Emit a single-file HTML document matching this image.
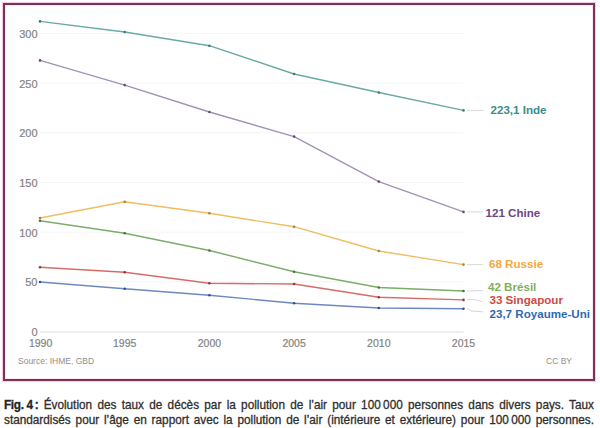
<!DOCTYPE html>
<html><head><meta charset="utf-8">
<style>
html,body{margin:0;padding:0;background:#fff;}
body{width:600px;height:428px;position:relative;overflow:hidden;font-family:"Liberation Sans",sans-serif;}
#frame{position:absolute;left:3px;top:3px;width:592px;height:378px;box-sizing:border-box;border:2px solid #7a3358;box-shadow:0 0 0 1px #f7cde6,inset 0 0 0 1px #fce6f4;}
svg{position:absolute;left:0;top:0;}
.cap{position:absolute;left:3.7px;top:398px;width:621px;transform:scaleX(0.95);transform-origin:0 0;font-size:12.4px;line-height:14.6px;color:#2e2e2e;text-align:justify;text-align-last:justify;-webkit-text-stroke:0.3px #2e2e2e;}
.cap b{color:#222;}
</style></head>
<body>
<div id="frame"></div>
<svg width="600" height="428" viewBox="0 0 600 428">
 <g stroke="#f6f6f6" stroke-width="1">
  <line x1="40" y1="33.5" x2="463.5" y2="33.5"/>
  <line x1="40" y1="83.2" x2="463.5" y2="83.2"/>
  <line x1="40" y1="132.8" x2="463.5" y2="132.8"/>
  <line x1="40" y1="182.5" x2="463.5" y2="182.5"/>
  <line x1="40" y1="232.2" x2="463.5" y2="232.2"/>
  <line x1="40" y1="281.8" x2="463.5" y2="281.8"/>
 </g>
 <line x1="40" y1="332" x2="463.5" y2="332" stroke="#e0e0e0" stroke-width="1.2"/>
 <g font-size="11" fill="#7f7f7f" stroke="#8a8a8a" stroke-width="0.2" text-anchor="end">
  <text x="37.5" y="37.8">300</text>
  <text x="37.5" y="87.5">250</text>
  <text x="37.5" y="137.1">200</text>
  <text x="37.5" y="186.8">150</text>
  <text x="37.5" y="236.5">100</text>
  <text x="37.5" y="286.1">50</text>
  <text x="37.5" y="335.8">0</text>
 </g>
 <g font-size="10.5" fill="#7f7f7f" stroke="#8a8a8a" stroke-width="0.2" text-anchor="middle">
  <text x="40.6" y="347">1990</text>
  <text x="124.7" y="347">1995</text>
  <text x="209.4" y="347">2000</text>
  <text x="294.1" y="347">2005</text>
  <text x="378.8" y="347">2010</text>
  <text x="463.5" y="347">2015</text>
 </g>
 <text x="18" y="364" font-size="8.5" fill="#8e8e8e">Source: IHME, GBD</text>
 <text x="572" y="363.5" font-size="8.5" fill="#8e8e8e" text-anchor="end">CC BY</text>

 <g stroke="#d8d8d8" stroke-width="1" fill="none">
  <line x1="467" y1="110.4" x2="483.5" y2="110.4"/>
  <line x1="467" y1="211.9" x2="483" y2="211.9"/>
  <line x1="467" y1="264.6" x2="483" y2="264.6"/>
  <path d="M467 291 L483 290.5"/>
  <path d="M467 299.7 L474 299.5 L483 301.8"/>
  <path d="M467 308.6 L472 311 L483 311.8"/>
 </g>

 <g fill="none" stroke-width="1.4" stroke-linejoin="round">
  <polyline stroke="#6aa9a6" points="40,21.4 124.7,32 209.4,45.7 294.1,74 378.8,92.5 463.5,110.4"/>
  <polyline stroke="#a292b6" points="40,60.4 124.7,85.1 209.4,112 294.1,136.6 378.8,181.6 463.5,211.9"/>
  <polyline stroke="#f0bd60" points="40,218 124.7,201.7 209.4,213.3 294.1,226.7 378.8,251 463.5,264.6"/>
  <polyline stroke="#7aad6a" points="40,220.7 124.7,233.3 209.4,250.5 294.1,271.7 378.8,287.5 463.5,291"/>
  <polyline stroke="#d66c6a" points="40,267.3 124.7,272.3 209.4,283.3 294.1,284 378.8,297.3 463.5,299.9"/>
  <polyline stroke="#6d89c2" points="40,282 124.7,288.7 209.4,295.2 294.1,303.3 378.8,308 463.5,308.7"/>
 </g>
 <g>
<circle cx="40" cy="21.4" r="1.3" fill="#3d7a78"/>
<circle cx="124.7" cy="32" r="1.3" fill="#3d7a78"/>
<circle cx="209.4" cy="45.7" r="1.3" fill="#3d7a78"/>
<circle cx="294.1" cy="74" r="1.3" fill="#3d7a78"/>
<circle cx="378.8" cy="92.5" r="1.3" fill="#3d7a78"/>
<circle cx="463.5" cy="110.4" r="1.3" fill="#3d7a78"/>
<circle cx="40" cy="60.4" r="1.3" fill="#6a4a78"/>
<circle cx="124.7" cy="85.1" r="1.3" fill="#6a4a78"/>
<circle cx="209.4" cy="112" r="1.3" fill="#6a4a78"/>
<circle cx="294.1" cy="136.6" r="1.3" fill="#6a4a78"/>
<circle cx="378.8" cy="181.6" r="1.3" fill="#6a4a78"/>
<circle cx="463.5" cy="211.9" r="1.3" fill="#6a4a78"/>
<circle cx="40" cy="218" r="1.3" fill="#b08030"/>
<circle cx="124.7" cy="201.7" r="1.3" fill="#b08030"/>
<circle cx="209.4" cy="213.3" r="1.3" fill="#b08030"/>
<circle cx="294.1" cy="226.7" r="1.3" fill="#b08030"/>
<circle cx="378.8" cy="251" r="1.3" fill="#b08030"/>
<circle cx="463.5" cy="264.6" r="1.3" fill="#b08030"/>
<circle cx="40" cy="220.7" r="1.3" fill="#3f7a3a"/>
<circle cx="124.7" cy="233.3" r="1.3" fill="#3f7a3a"/>
<circle cx="209.4" cy="250.5" r="1.3" fill="#3f7a3a"/>
<circle cx="294.1" cy="271.7" r="1.3" fill="#3f7a3a"/>
<circle cx="378.8" cy="287.5" r="1.3" fill="#3f7a3a"/>
<circle cx="463.5" cy="291" r="1.3" fill="#3f7a3a"/>
<circle cx="40" cy="267.3" r="1.3" fill="#8a3a3a"/>
<circle cx="124.7" cy="272.3" r="1.3" fill="#8a3a3a"/>
<circle cx="209.4" cy="283.3" r="1.3" fill="#8a3a3a"/>
<circle cx="294.1" cy="284" r="1.3" fill="#8a3a3a"/>
<circle cx="378.8" cy="297.3" r="1.3" fill="#8a3a3a"/>
<circle cx="463.5" cy="299.9" r="1.3" fill="#8a3a3a"/>
<circle cx="40" cy="282" r="1.3" fill="#33508a"/>
<circle cx="124.7" cy="288.7" r="1.3" fill="#33508a"/>
<circle cx="209.4" cy="295.2" r="1.3" fill="#33508a"/>
<circle cx="294.1" cy="303.3" r="1.3" fill="#33508a"/>
<circle cx="378.8" cy="308" r="1.3" fill="#33508a"/>
<circle cx="463.5" cy="308.7" r="1.3" fill="#33508a"/>
 </g>

 <g font-size="11.6" font-weight="bold">
  <text x="490.5" y="113.5" fill="#3a8e8c">223,1 Inde</text>
  <text x="485.5" y="216.5" fill="#6e4684">121 Chine</text>
  <text x="489" y="267.6" fill="#f0a840">68 Russie</text>
  <text x="488" y="291" fill="#82b058">42 Brésil</text>
  <text x="489.5" y="304" fill="#cc4a44">33 Singapour</text>
  <text x="489.5" y="317.6" fill="#2d6bb0">23,7 Royaume-Uni</text>
 </g>
</svg>
<div class="cap"><b style="display:inline-block;letter-spacing:-0.35px">Fig. 4&#8201;:</b> Évolution des taux de décès par la pollution de l’air pour 100&#8239;000 personnes dans divers pays. Taux<br>standardisés pour l’âge en rapport avec la pollution de l’air (intérieure et extérieure) pour 100&#8239;000 personnes.</div>
</body></html>
